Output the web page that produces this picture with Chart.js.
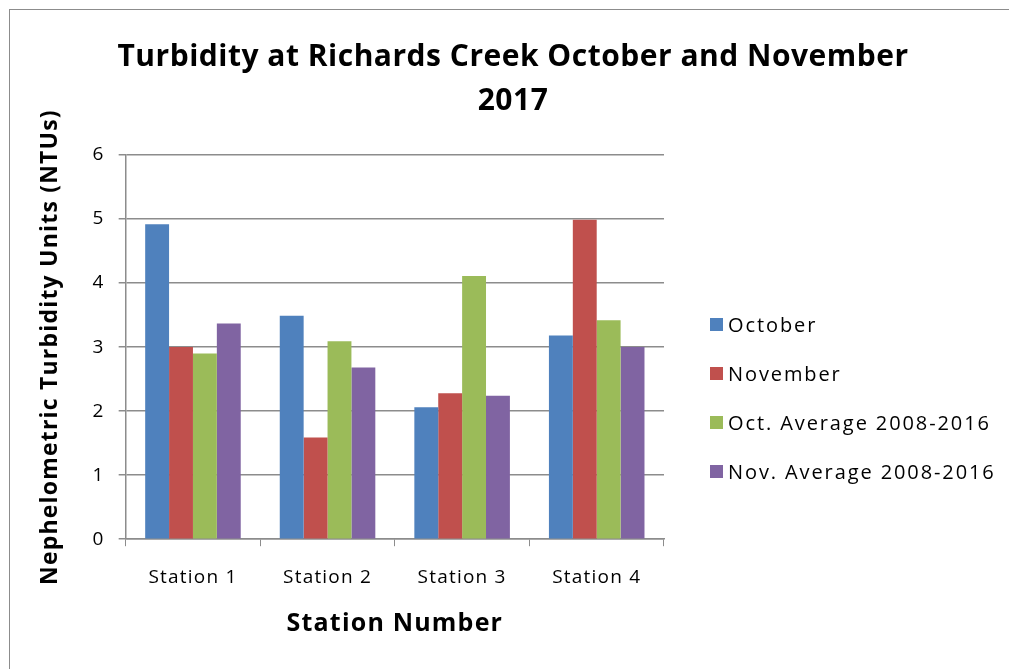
<!DOCTYPE html>
<html>
<head>
<meta charset="utf-8">
<script src="https://cdn.jsdelivr.net/npm/chart.js@4"></script>
<style>
  body { margin: 0; background: #fff; font-family: 'Open Sans'; }
  #frame { position: absolute; left: 9px; top: 9px; width: 1100px; height: 700px; border: 1px solid #8c8c8c; }
  #wrap { position: absolute; left: 0; top: 0; width: 1009px; height: 669px; }
  #title { position: absolute; left: 17px; top: 33px; width: 992px; text-align: center; font-size: 30px; font-weight: bold; line-height: 44px; letter-spacing: 0.5px; color: #000; }
  #legend { position: absolute; left: 710px; top: 311px; }
  .item { height: 49px; font-size: 20px; letter-spacing: 1.9px; color: #000; white-space: nowrap; }
  .box { display: inline-block; width: 13px; height: 13px; margin-right: 5px; vertical-align: 1px; }
</style>
</head>
<body>
<div id="frame"></div>
<div id="wrap"><canvas id="myChart" width="1009" height="669"></canvas></div>
<div id="title"></div>
<div id="legend"></div>
<script>
// data
const chartTitle = ["Turbidity at Richards Creek October and November", "2017"]
const stations = ["Station 1", "Station 2", "Station 3", "Station 4"]
const october = [4.92, 3.49, 2.06, 3.18]
const november = [3.00, 1.59, 2.28, 4.99]
const octAverage = [2.90, 3.09, 4.11, 3.42]
const novAverage = [3.37, 2.68, 2.24, 3.00]
const seriesNames = ["October", "November", "Oct. Average 2008-2016", "Nov. Average 2008-2016"]
const seriesColors = ["#4F81BD", "#C0504D", "#9BBB59", "#8064A2"]

const ctx = document.getElementById('myChart').getContext('2d');
const allSeries = [october, november, octAverage, novAverage]

// wider text like the original rendering
const spacing = {
    id: 'spacing',
    beforeUpdate(chart) { chart.ctx.letterSpacing = '1.2px'; },
    beforeDraw(chart) { chart.ctx.letterSpacing = '1.2px'; }
}

const myChart = new Chart(ctx, {
    type: 'bar',
    data: {
        labels: stations,
        datasets: allSeries.map((vals, i) => ({
            label: seriesNames[i],
            data: vals,
            backgroundColor: seriesColors[i],
            borderWidth: 0,
            categoryPercentage: 0.71,
            barPercentage: 1.0
        }))
    },
    plugins: [spacing],
    options: {
        responsive: false,
        animation: false,
        layout: { padding: { left: 33, right: 345, top: 155, bottom: 26 } },
        plugins: {
            title: { display: false },
            legend: { display: false },
            tooltip: { enabled: false }
        },
        scales: {
            x: {
                grid: { display: true, drawOnChartArea: false, color: '#8c8c8c', tickLength: 7 },
                border: { color: '#8c8c8c', width: 1.5 },
                ticks: { color: '#000', font: { family: 'Open Sans', size: 19 }, padding: 20 },
                title: {
                    display: true,
                    text: 'Station Number',
                    color: '#000',
                    font: { family: 'Open Sans', size: 25, weight: 'bold' },
                    padding: { top: 0 }
                }
            },
            y: {
                min: 0,
                max: 6,
                ticks: { stepSize: 1, color: '#000', font: { family: 'Open Sans', size: 19 }, padding: 14 },
                grid: { color: '#8c8c8c', lineWidth: 1.5, tickLength: 7 },
                border: { color: '#8c8c8c', width: 1.5 },
                title: {
                    display: true,
                    text: 'Nephelometric Turbidity Units (NTUs)',
                    color: '#000',
                    font: { family: 'Open Sans', size: 23, weight: 'bold' },
                    padding: { bottom: 14 }
                }
            }
        }
    }
});

document.getElementById('title').innerHTML = chartTitle.join('<br>');

// legend built from the same series arrays
let output = ``
seriesNames.forEach((name, i) => {
    output += `<div class="item"><span class="box" style="background:${seriesColors[i]}"></span>${name}</div>`
});
document.getElementById('legend').innerHTML = output;
</script>
</body>
</html>
